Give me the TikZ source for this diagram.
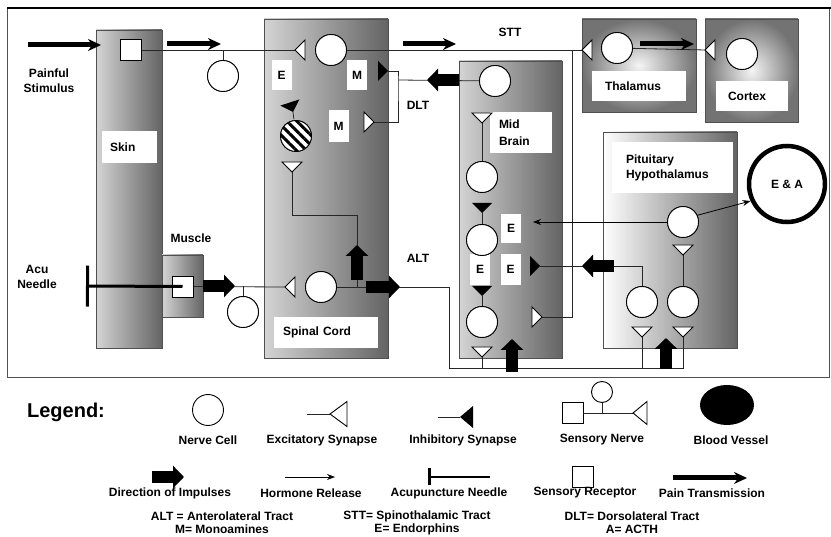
\documentclass[tikz,border=0pt]{standalone}
\usepackage{fontspec}
\setmainfont{Liberation Sans}
\usepackage{tikz}
\usetikzlibrary{shapes.geometric, arrows.meta, patterns.meta}
\definecolor{rim}{RGB}{80, 80, 80}
\definecolor{pale}{RGB}{212, 212, 212}
\definecolor{deep}{RGB}{100, 100, 100}

\begin{document}
\begin{tikzpicture}[
   x=1pt, y=-1pt,
   every node/.style={font=\fontsize{12}{15}\selectfont\bfseries},
   organ/.style={rectangle, draw=rim, line width=0.9, left color=pale,
                 right color=deep, inner sep=0},
   gland/.style={rectangle, draw=rim, line width=0.9, inner color=black!4,
                 outer color=black!55, inner sep=0},
   plate/.style={rectangle, fill=white, inner ysep=0, align=left},
   tag/.style={rectangle, fill=white, inner sep=0, minimum width=20pt,
               minimum height=30pt},
   cell/.style={circle, draw, fill=white, line width=0.9, minimum size=31pt,
                inner sep=0},
   hatched/.style={preaction={fill=white},
                   pattern={Lines[angle=-45, distance=7pt, line width=3pt]}},
   receptor/.style={rectangle, draw, fill=white, line width=0.9,
                    minimum size=21pt, inner sep=0},
   vessel/.style={ellipse, fill=black, minimum width=54pt, minimum height=40pt,
                  inner sep=0},
   fiber/.style={line width=0.8, color=black!85},
   pain/.style={line width=5, -{Stealth[length=13pt, width=12pt]}},
   impulse/.style={line width=12, -{Triangle[length=11pt, width=22pt]}},
   hormone/.style={line width=0.8, -{Stealth[length=8pt, width=6pt]}},
   needle/.style={line width=3, {Bar[width=41pt]}-},
   exsyn/.pic={\draw[fill=white, line width=0.9] (0,0) -- (10,-10) -- (10,10) -- cycle;},
   insyn/.pic={\fill (0,0) -- (10,-10) -- (10,10) -- cycle;}
  ]

  \useasboundingbox (0,0) rectangle (831,537);

  % Frame
  \draw[rim, line width=0.8] (7,8) rectangle (829,377);
  \draw[line width=2] (7,8) -- (831,8);

  % Organs
  \node[organ, minimum width=66pt, minimum height=318pt] (skin) at (129,189) {};
  \node[organ, minimum width=41pt, minimum height=62pt] (muscle) at (182.5,286) {};
  \node[organ, minimum width=124pt, minimum height=339pt] (cord) at (326,188.5) {};
  \node[organ, minimum width=103pt, minimum height=297pt] (brain) at (510.5,209.5) {};
  \node[gland, minimum width=114pt, minimum height=93pt] (thal) at (639,65.5) {};
  \node[gland, minimum width=93pt, minimum height=103pt] (cortex) at (751.5,70.5) {};
  \node[organ, left color=white, minimum width=134pt, minimum height=216pt] (pit) at (670,240) {};

  \node[plate, text width=39pt, inner xsep=8pt, minimum height=32pt] (skinL) at (129.5,147) {Skin};
  \node[plate, text width=86pt, inner xsep=9pt, minimum height=31pt] (cordL) at (326,332.5) {Spinal Cord};
  \node[plate, text width=44pt, inner xsep=9pt, minimum height=41pt,
        font=\fontsize{12}{17}\selectfont\bfseries] (brainL) at (521,132.5) {Mid\\Brain};
  \node[plate, text width=68pt, inner xsep=13pt, minimum height=30pt] (thalL) at (639,86) {Thalamus};
  \node[plate, text width=48pt, inner xsep=12pt, minimum height=30pt] (cortexL) at (752,96) {Cortex};
  \node[plate, text width=93pt, inner xsep=14pt, minimum height=51pt] (pitL) at (672.5,167.5) {Pituitary\\Hypothalamus};

  \node[tag] (tE) at (281.5,75) {E};
  \node[tag] (tM1) at (357,75) {M};
  \node[tag, minimum height=32pt] (tM2) at (338.5,126) {M};
  \node[tag, minimum height=29pt] (tE1) at (511,228.5) {E};
  \node[tag, minimum height=31pt] (tE2) at (480,269.5) {E};
  \node[tag, minimum height=31pt] (tE3) at (510.5,269.5) {E};

  % Texts
  \node[align=center] (stim) at (49,81) {Painful\\Stimulus};
  \node[align=center] (acu) at (37,277) {Acu\\Needle};
  \node (muscleT) at (191,238) {Muscle};
  \node (stt) at (510,32) {STT};
  \node (dltT) at (418,105) {DLT};
  \node (alt) at (418,258) {ALT};

  % Synapses and junctions
  \coordinate (sExTop) at (295,50);
  \coordinate (sExLow) at (285,287);
  \coordinate (sInDlt) at (388,71);
  \coordinate (sExDlt) at (374,122);
  \coordinate (sInHat) at (293,112);
  \coordinate (sExHat) at (292,172);
  \coordinate (mExTop) at (482,123);
  \coordinate (mInA) at (482,213);
  \coordinate (mInB) at (482,296);
  \coordinate (mExLow) at (482,357);
  \coordinate (mInSide) at (540,266);
  \coordinate (mExSide) at (542,317);
  \coordinate (tEx) at (582,50);
  \coordinate (cEx) at (705,50);
  \coordinate (pEx) at (683,255);
  \coordinate (pExL) at (642,337);
  \coordinate (pExR) at (683,337);
  \coordinate (dlt) at (398,80);
  \coordinate (sttj) at (572,50);
  \coordinate (bend) at (357,215);
  \coordinate (altj) at (357,287);
  \coordinate (altc) at (449,368);
  \coordinate (alte) at (683,368);
  \coordinate (horm) at (533,222);
  \coordinate (ndl) at (86,286);

  % Cells
  \node[receptor] (rec1) at (131,50) {};
  \node[receptor] (rec2) at (182.5,286.5) {};
  \node[cell] (nA) at (223,76) {};
  \node[cell] (nB) at (243,312) {};
  \node[cell] (cell1) at (331,50) {};
  \node[cell] (cell2) at (321,287) {};
  \node[cell, hatched] (hatch) at (296,136) {};
  \node[cell] (mbCell1) at (495,81) {};
  \node[cell] (mbCell2) at (482,177) {};
  \node[cell] (mbCell3) at (482,240) {};
  \node[cell] (mbCell4) at (482,322) {};
  \node[cell] (thCell) at (617,48) {};
  \node[cell] (cxCell) at (742,54) {};
  \node[cell] (ptCell1) at (683,222) {};
  \node[cell] (ptCell2) at (642,302) {};
  \node[cell] (ptCell3) at (683,302) {};
  \node[circle, draw, line width=4.5, minimum size=76pt, inner sep=0] (ea) at (787,184) {E \& A};

  % Fibres
  \foreach \B/\E in {rec1/sExTop, rec2/sExLow, cell1/tEx, thCell/cEx, sInHat/hatch,
                     mExTop/mbCell2, mInA/mbCell3, mInB/mbCell4, pEx/ptCell3, mbCell1/dlt} {
    \draw[fiber] (\B) -- (\E);
  }
  \draw[fiber] (nA) -- (nA |- rec1);
  \draw[fiber] (nB) -- (nB |- rec2);
  \draw[fiber] (sInDlt) -| (dlt) |- (sExDlt);
  \draw[fiber] (sttj) |- (mExSide);
  \draw[fiber] (sExHat) |- (bend) -- (altj);
  \draw[fiber] (cell2) -| (altc) -- (alte) -- (pExR);
  \draw[fiber] (mExLow) -- (mExLow |- altc);
  \draw[fiber] (pExL) -- (pExL |- altc);
  \draw[fiber] (ptCell2) |- (mInSide);
  \draw[hormone] (ptCell1) -- (horm);
  \draw[hormone] (ptCell1.25) -- (ea.205);

  % redraw cells over fibres
  \foreach \C in {nA, nB, cell1, cell2, mbCell1, mbCell2, mbCell3, mbCell4,
                  thCell, cxCell, ptCell1, ptCell2, ptCell3} {
    \node[cell] at (\C) {};
  }
  \node[cell, hatched] at (hatch) {};

  \foreach \S/\R in {sExTop/0, sExLow/0, sExDlt/180, sExHat/90, mExTop/90,
                     mExLow/90, mExSide/180, tEx/0, cEx/0, pEx/90, pExL/90, pExR/90} {
    \pic[rotate=\R] at (\S) {exsyn};
  }
  \foreach \S/\R in {sInDlt/180, sInHat/108, mInA/90, mInB/90, mInSide/180} {
    \pic[rotate=\R] at (\S) {insyn};
  }

  % Impulses
  \coordinate (stimA) at (28,45);  \coordinate (stimB) at (101,45);
  \coordinate (painA) at (167,44); \coordinate (painB) at (221,44);
  \coordinate (painC) at (403,44); \coordinate (painD) at (456,44);
  \coordinate (painE) at (640,44); \coordinate (painF) at (694,44);
  \foreach \B/\E in {stimA/stimB, painA/painB, painC/painD, painE/painF} {
    \draw[pain] (\B) -- (\E);
  }
  \coordinate (impA) at (203,286); \coordinate (impB) at (235,286);
  \coordinate (impC) at (366,287); \coordinate (impD) at (400,287);
  \coordinate (impE) at (357,280); \coordinate (impF) at (357,245);
  \coordinate (impG) at (459,80);  \coordinate (impH) at (427,80);
  \coordinate (impI) at (512,372); \coordinate (impJ) at (512,339);
  \coordinate (impK) at (614,266); \coordinate (impL) at (582,266);
  \coordinate (impM) at (666,369); \coordinate (impN) at (666,338);
  \foreach \B/\E in {impA/impB, impC/impD, impE/impF, impG/impH,
                     impI/impJ, impK/impL, impM/impN} {
    \draw[impulse] (\B) -- (\E);
  }
  \draw[needle] (ndl) -- (rec2.center);

  % Legend
  \node[font=\fontsize{20}{22}\selectfont\bfseries] (lgHead) at (66,412) {Legend:};
  \node[cell] (lgCell) at (208,410) {};
  \node (lgCellT) at (208,440) {Nerve Cell};
  \coordinate (lgExA) at (307,414); \coordinate (lgEx) at (330,414);
  \draw[fiber] (lgExA) -- (lgEx);
  \pic[xscale=1.7, yscale=1.25] at (lgEx) {exsyn};
  \node (lgExT) at (322,440) {Excitatory Synapse};
  \coordinate (lgInA) at (438,417); \coordinate (lgIn) at (460,417);
  \draw[fiber] (lgInA) -- (lgIn);
  \pic[xscale=1.3, yscale=1.1] at (lgIn) {insyn};
  \node (lgInT) at (463,440) {Inhibitory Synapse};
  \node[receptor] (lgRec) at (572.5,413) {};
  \node[cell, minimum size=21pt] (lgNc) at (602,392) {};
  \coordinate (lgNEx) at (633,413);
  \draw[fiber] (lgRec) -- (lgNEx);
  \draw[fiber] (lgNc) -- (lgNc |- lgNEx);
  \pic[xscale=1.4, yscale=1.15] at (lgNEx) {exsyn};
  \node (lgNT) at (602,440) {Sensory Nerve};
  \node[vessel] (lgVes) at (727,405) {};
  \node (lgVesT) at (731,440) {Blood Vessel};

  \coordinate (lgImA) at (152,477); \coordinate (lgImB) at (184,477);
  \draw[impulse] (lgImA) -- (lgImB);
  \node (lgImT) at (170,493) {Direction of Impulses};
  \coordinate (lgHoA) at (285,477); \coordinate (lgHoB) at (335,477);
  \draw[hormone] (lgHoA) -- (lgHoB);
  \node (lgHoT) at (311,493) {Hormone Release};
  \coordinate (lgNdA) at (428,477); \coordinate (lgNdB) at (490,477);
  \draw[line width=2.5, {Bar[width=17pt]}-] (lgNdA) -- (lgNdB);
  \node (lgNdT) at (449,493) {Acupuncture Needle};
  \node[receptor] (lgSr) at (582.5,476.5) {};
  \node (lgSrT) at (585,493) {Sensory Receptor};
  \coordinate (lgPaA) at (673,478); \coordinate (lgPaB) at (747,478);
  \draw[pain] (lgPaA) -- (lgPaB);
  \node (lgPaT) at (712,493) {Pain Transmission};

  \node (abALT) at (222,516) {ALT = Anterolateral Tract};
  \node (abM) at (222,529) {M= Monoamines};
  \node (abSTT) at (417,516) {STT= Spinothalamic Tract};
  \node (abE) at (417,529) {E= Endorphins};
  \node (abDLT) at (632,516) {DLT= Dorsolateral Tract};
  \node (abA) at (632,529) {A= ACTH};

\end{tikzpicture}
\end{document}
